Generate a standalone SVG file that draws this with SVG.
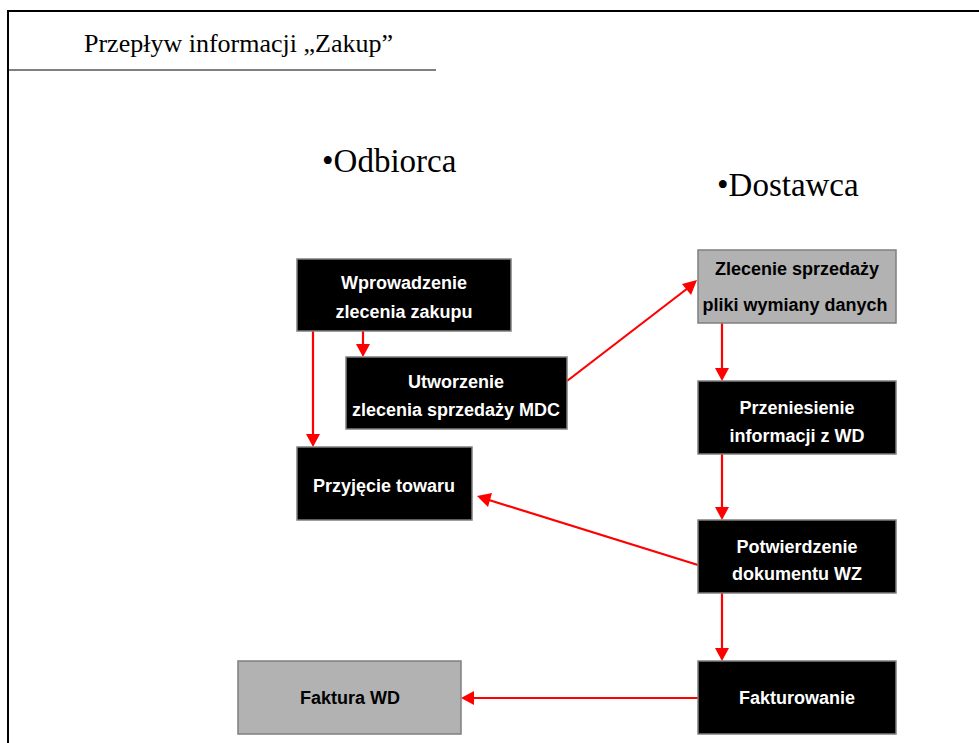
<svg xmlns="http://www.w3.org/2000/svg" width="979" height="743" viewBox="0 0 979 743">
<defs>
<style>
.box{fill:#000;stroke:#7f7f7f;stroke-width:1.5}
.gbox{fill:#b2b2b2;stroke:#7f7f7f;stroke-width:1.5}
.wt{fill:#fff;font-family:"Liberation Sans",Arial,sans-serif;font-weight:bold;font-size:18px;text-anchor:middle}
.bt{fill:#000;font-family:"Liberation Sans",Arial,sans-serif;font-weight:bold;font-size:18px;text-anchor:middle}
.serif{font-family:"Liberation Serif","Times New Roman",serif;fill:#000}
.red{stroke:#ff0000;stroke-width:2.2;fill:none}
.head{fill:#ff0000}
</style>
</defs>
<rect width="979" height="743" fill="#fff"/>
<g id="frame">
<line x1="8" y1="11" x2="979" y2="11" stroke="#000" stroke-width="2"/>
<line x1="8" y1="10" x2="8" y2="743" stroke="#000" stroke-width="2"/>
<line x1="8" y1="70" x2="436" y2="70" stroke="#000" stroke-width="1"/>
<text class="serif" x="84" y="52" font-size="26">Przepływ informacji „Zakup”</text>
<text class="serif" x="322" y="172" font-size="33">•Odbiorca</text>
<text class="serif" x="717" y="196" font-size="33">•Dostawca</text>
</g>
<g id="connectors">
<line class="red" x1="313" y1="331" x2="313" y2="435"/>
<path class="head" d="M306,434 L320,434 L313,447 z"/>
<line class="red" x1="363" y1="331" x2="363" y2="345"/>
<path class="head" d="M356,344 L370,344 L363,357 z"/>
<line class="red" x1="567" y1="381" x2="688" y2="288"/>
<path class="head" d="M697,280 L682,284 L691,295 z"/>
<line class="red" x1="722" y1="323" x2="722" y2="369"/>
<path class="head" d="M715,368 L729,368 L722,381 z"/>
<line class="red" x1="722" y1="454" x2="722" y2="508"/>
<path class="head" d="M715,507 L729,507 L722,520 z"/>
<line class="red" x1="698" y1="565" x2="489" y2="500"/>
<path class="head" d="M477,496 L492,493 L488,507 z"/>
<line class="red" x1="722" y1="593" x2="722" y2="649"/>
<path class="head" d="M715,648 L729,648 L722,661 z"/>
<line class="red" x1="698" y1="698" x2="473" y2="698"/>
<path class="head" d="M461,698 L474,691 L474,705 z"/>
</g>
<g id="n-wprowadzenie">
<rect class="box" x="297" y="259" width="214" height="72"/>
<text class="wt" x="404" y="289">Wprowadzenie</text>
<text class="wt" x="404" y="318">zlecenia zakupu</text>
</g>
<g id="n-utworzenie">
<rect class="box" x="346" y="357" width="221" height="72"/>
<text class="wt" x="456" y="388">Utworzenie</text>
<text class="wt" x="456" y="416">zlecenia sprzedaży MDC</text>
</g>
<g id="n-zlecenie">
<rect class="gbox" x="698" y="250" width="198" height="73"/>
<text class="bt" x="797" y="275">Zlecenie sprzedaży</text>
<text class="bt" x="795" y="311">pliki wymiany danych</text>
</g>
<g id="n-przeniesienie">
<rect class="box" x="698" y="381" width="198" height="73"/>
<text class="wt" x="797" y="414">Przeniesienie</text>
<text class="wt" x="797" y="442">informacji z WD</text>
</g>
<g id="n-przyjecie">
<rect class="box" x="297" y="447" width="175" height="73"/>
<text class="wt" x="384" y="492">Przyjęcie towaru</text>
</g>
<g id="n-potwierdzenie">
<rect class="box" x="698" y="520" width="198" height="73"/>
<text class="wt" x="797" y="553">Potwierdzenie</text>
<text class="wt" x="797" y="580">dokumentu WZ</text>
</g>
<g id="n-fakturowanie">
<rect class="box" x="698" y="661" width="198" height="73"/>
<text class="wt" x="797" y="704">Fakturowanie</text>
</g>
<g id="n-faktura">
<rect class="gbox" x="238" y="661" width="223" height="73"/>
<text class="bt" x="350" y="704">Faktura WD</text>
</g>
</svg>
